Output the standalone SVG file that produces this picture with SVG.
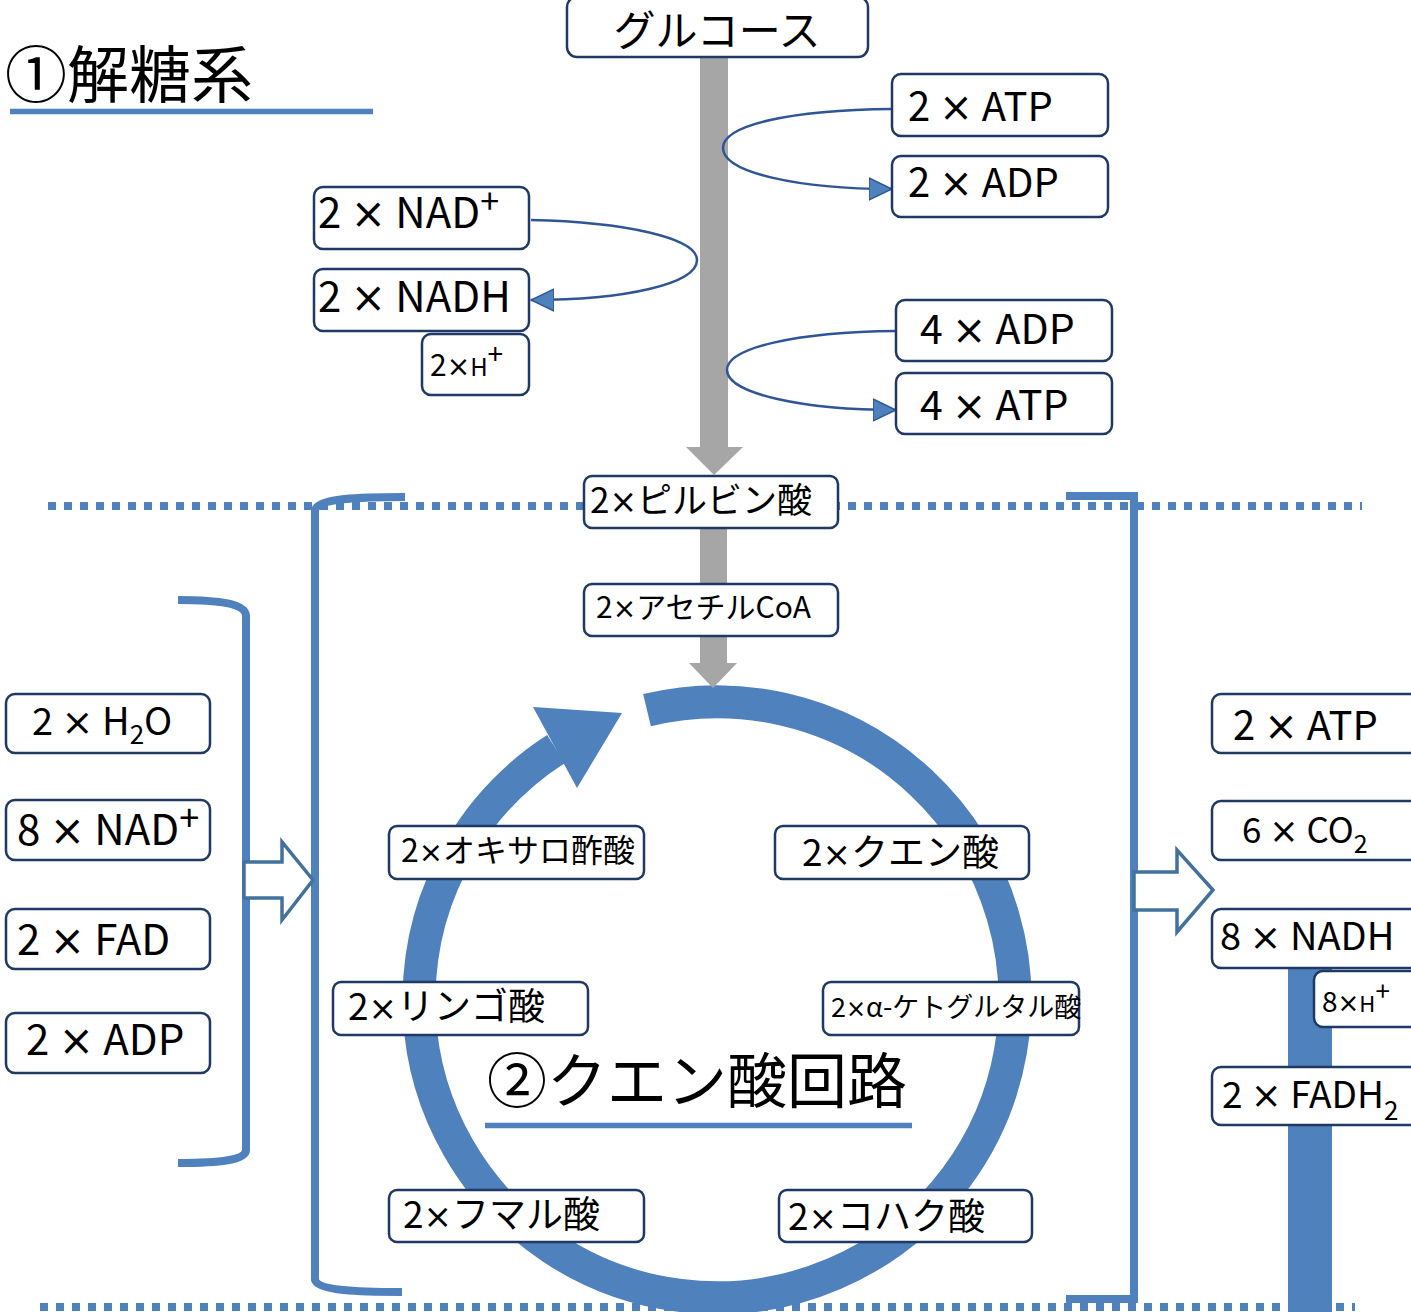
<svg xmlns="http://www.w3.org/2000/svg" width="1411" height="1312" viewBox="0 0 1411 1312">
<style>
.box{fill:#fff;stroke:#1F3864;stroke-width:2.5}
.t{font-family:"Noto Sans CJK JP","Noto Sans",sans-serif;fill:#000}
.x{font-family:"DejaVu Sans",sans-serif}
.conn{fill:none;stroke:#2F5597;stroke-width:2.5}
.blue{fill:none;stroke:#4F81BD;stroke-width:8}
.dots{fill:none;stroke:#4F81BD;stroke-width:8;stroke-dasharray:8 8}
.hollow{fill:#fff;stroke:#41719C;stroke-width:3.5;stroke-linejoin:miter}
.gray{fill:#A6A6A6}
.uline{stroke:#4F81BD;stroke-width:5.5}
</style>
<defs>
<marker id="ah" viewBox="0 0 24 24" refX="23" refY="12" markerWidth="24" markerHeight="24" markerUnits="userSpaceOnUse" orient="auto">
<path d="M0,1 L23,12 L0,23 z" fill="#4F81BD" stroke="#2F5597" stroke-width="1.5"/>
</marker>
</defs>

<g id="titles">
<text class="t" x="5" y="98" font-size="62">①解糖系</text>
<line class="uline" x1="10" y1="111.5" x2="373" y2="111.5"/>
<text class="t" x="487" y="1103" font-size="60">②クエン酸回路</text>
<line class="uline" x1="485" y1="1125.5" x2="912" y2="1125.5"/>
</g>

<g id="separators">
<line class="dots" x1="48" y1="506" x2="1362" y2="506"/>
<line class="dots" x1="40" y1="1307" x2="1355" y2="1307"/>
</g>

<g id="tca-ring">
<path d="M647,710.1 A298,298 0 1 1 556,749" fill="none" stroke="#4F81BD" stroke-width="33"/>
<polygon points="533,707 622,713 577,788" fill="#4F81BD"/>
</g>

<g id="gray-arrows">
<rect class="gray" x="700" y="57" width="28" height="392"/>
<polygon class="gray" points="686,447 743,447 714,475"/>
<rect class="gray" x="700" y="528" width="27" height="57"/>
<rect class="gray" x="700" y="636" width="27" height="28"/>
<polygon class="gray" points="689,663 737,663 713,688"/>
</g>

<g id="brackets">
<path class="blue" d="M405,497 C360,497 318,498 315,510 L315,1280 C318,1291 360,1292 402,1292"/>
<path class="blue" d="M1066,496 L1134,496 L1134,1299 L1066,1299"/>
<path class="blue" d="M178,600 C220,600 246,604 246,616 L246,1150 C246,1160 220,1163 178,1163"/>
<rect x="1288" y="968" width="44" height="344" fill="#4F81BD"/>
</g>

<g id="hollow-arrows">
<polygon class="hollow" points="244,862 282,862 282,842 313,880 282,920 282,898 244,898"/>
<polygon class="hollow" points="1134,872 1177,872 1177,850 1213,890 1177,932 1177,910 1134,910"/>
</g>

<g id="connectors">
<path class="conn" d="M892,109 C790,110 723,125 723,148 C723,173 800,189 892,189" marker-end="url(#ah)"/>
<path class="conn" d="M531,220 C625,222 697,238 697,260 C697,284 625,300 531,300" marker-end="url(#ah)"/>
<path class="conn" d="M896,331 C795,332 727,348 727,370 C727,394 805,410 896,410" marker-end="url(#ah)"/>
</g>

<g id="glucose">
<rect class="box" x="567" y="-3" width="301" height="60" rx="10"/>
<text class="t" x="717" y="46" font-size="42" text-anchor="middle">グルコース</text>
</g>
<g id="atp2-top">
<rect class="box" x="892" y="74" width="216" height="62" rx="9"/>
<text class="t" x="908" y="121" font-size="40">2 <tspan class="x">×</tspan> ATP</text>
</g>
<g id="adp2-top">
<rect class="box" x="892" y="156" width="216" height="61" rx="9"/>
<text class="t" x="908" y="197" font-size="40">2 <tspan class="x">×</tspan> ADP</text>
</g>
<g id="nad2">
<rect class="box" x="314" y="187" width="215" height="62" rx="9"/>
<text class="t" x="318" y="228" font-size="42">2 <tspan class="x">×</tspan> NAD<tspan font-size="34" dy="-14">+</tspan></text>
</g>
<g id="nadh2">
<rect class="box" x="314" y="269" width="215" height="62" rx="9"/>
<text class="t" x="318" y="312" font-size="42">2 <tspan class="x">×</tspan> NADH</text>
</g>
<g id="h2">
<rect class="box" x="422" y="334" width="107" height="61" rx="9"/>
<text class="t" x="430" y="376" font-size="30">2<tspan class="x" font-size="28">×</tspan><tspan font-size="24">H</tspan><tspan font-size="28" dy="-12">+</tspan></text>
</g>
<g id="adp4">
<rect class="box" x="896" y="300" width="216" height="61" rx="9"/>
<text class="t" x="920" y="344" font-size="41">4 <tspan class="x">×</tspan> ADP</text>
</g>
<g id="atp4">
<rect class="box" x="896" y="373" width="216" height="61" rx="9"/>
<text class="t" x="920" y="420" font-size="41">4 <tspan class="x">×</tspan> ATP</text>
</g>
<g id="pyruvate">
<rect class="box" x="584" y="476" width="254" height="52" rx="8"/>
<text class="t" x="590" y="513" font-size="35">2<tspan class="x" font-size="33">×</tspan>ピルビン酸</text>
</g>
<g id="acetylcoa">
<rect class="box" x="584" y="584" width="254" height="52" rx="8"/>
<text class="t" x="596" y="618" font-size="30">2<tspan class="x" font-size="28">×</tspan>アセチルCoA</text>
</g>

<g id="oxaloacetate">
<rect class="box" x="389" y="826" width="255" height="53" rx="8"/>
<text class="t" x="401" y="862" font-size="32">2<tspan class="x" font-size="29">×</tspan>オキサロ酢酸</text>
</g>
<g id="citrate">
<rect class="box" x="775" y="826" width="254" height="53" rx="8"/>
<text class="t" x="802" y="866" font-size="37">2<tspan class="x" font-size="34">×</tspan>クエン酸</text>
</g>
<g id="malate">
<rect class="box" x="333" y="982" width="255" height="53" rx="8"/>
<text class="t" x="348" y="1020" font-size="37">2<tspan class="x" font-size="34">×</tspan>リンゴ酸</text>
</g>
<g id="ketoglutarate">
<rect class="box" x="823" y="982" width="256" height="53" rx="8"/>
<text class="t" x="831" y="1017" font-size="27">2<tspan class="x" font-size="24">×</tspan>α-ケトグルタル酸</text>
</g>
<g id="fumarate">
<rect class="box" x="389" y="1190" width="255" height="52" rx="8"/>
<text class="t" x="403" y="1228" font-size="37">2<tspan class="x" font-size="34">×</tspan>フマル酸</text>
</g>
<g id="succinate">
<rect class="box" x="779" y="1190" width="253" height="52" rx="8"/>
<text class="t" x="788" y="1230" font-size="37">2<tspan class="x" font-size="34">×</tspan>コハク酸</text>
</g>

<g id="in-h2o">
<rect class="box" x="6" y="694" width="204" height="59" rx="9"/>
<text class="t" x="32" y="735" font-size="38">2 <tspan class="x">×</tspan> H<tspan font-size="26" dy="9">2</tspan><tspan dy="-9">O</tspan></text>
</g>
<g id="in-nad8">
<rect class="box" x="6" y="800" width="204" height="60" rx="9"/>
<text class="t" x="17" y="845" font-size="42">8 <tspan class="x">×</tspan> NAD<tspan font-size="36" dy="-14">+</tspan></text>
</g>
<g id="in-fad2">
<rect class="box" x="6" y="909" width="204" height="60" rx="9"/>
<text class="t" x="17" y="955" font-size="42">2 <tspan class="x">×</tspan> FAD</text>
</g>
<g id="in-adp2">
<rect class="box" x="6" y="1013" width="204" height="60" rx="9"/>
<text class="t" x="26" y="1055" font-size="42">2 <tspan class="x">×</tspan> ADP</text>
</g>

<g id="out-atp2">
<rect class="box" x="1212" y="694" width="230" height="59" rx="9"/>
<text class="t" x="1233" y="740" font-size="40">2 <tspan class="x">×</tspan> ATP</text>
</g>
<g id="out-co2">
<rect class="box" x="1212" y="801" width="230" height="59" rx="9"/>
<text class="t" x="1242" y="843" font-size="35">6 <tspan class="x">×</tspan> CO<tspan font-size="25" dy="10">2</tspan></text>
</g>
<g id="out-nadh8">
<rect class="box" x="1212" y="909" width="230" height="59" rx="9"/>
<text class="t" x="1220" y="950" font-size="38">8 <tspan class="x">×</tspan> NADH</text>
</g>
<g id="out-h8">
<rect class="box" x="1314" y="971" width="120" height="56" rx="9"/>
<text class="t" x="1322" y="1012" font-size="28">8<tspan class="x" font-size="26">×</tspan><tspan font-size="22">H</tspan><tspan font-size="26" dy="-11">+</tspan></text>
</g>
<g id="out-fadh2">
<rect class="box" x="1212" y="1067" width="230" height="58" rx="9"/>
<text class="t" x="1222" y="1108" font-size="37">2 <tspan class="x">×</tspan> FADH<tspan font-size="26" dy="12">2</tspan></text>
</g>
</svg>
